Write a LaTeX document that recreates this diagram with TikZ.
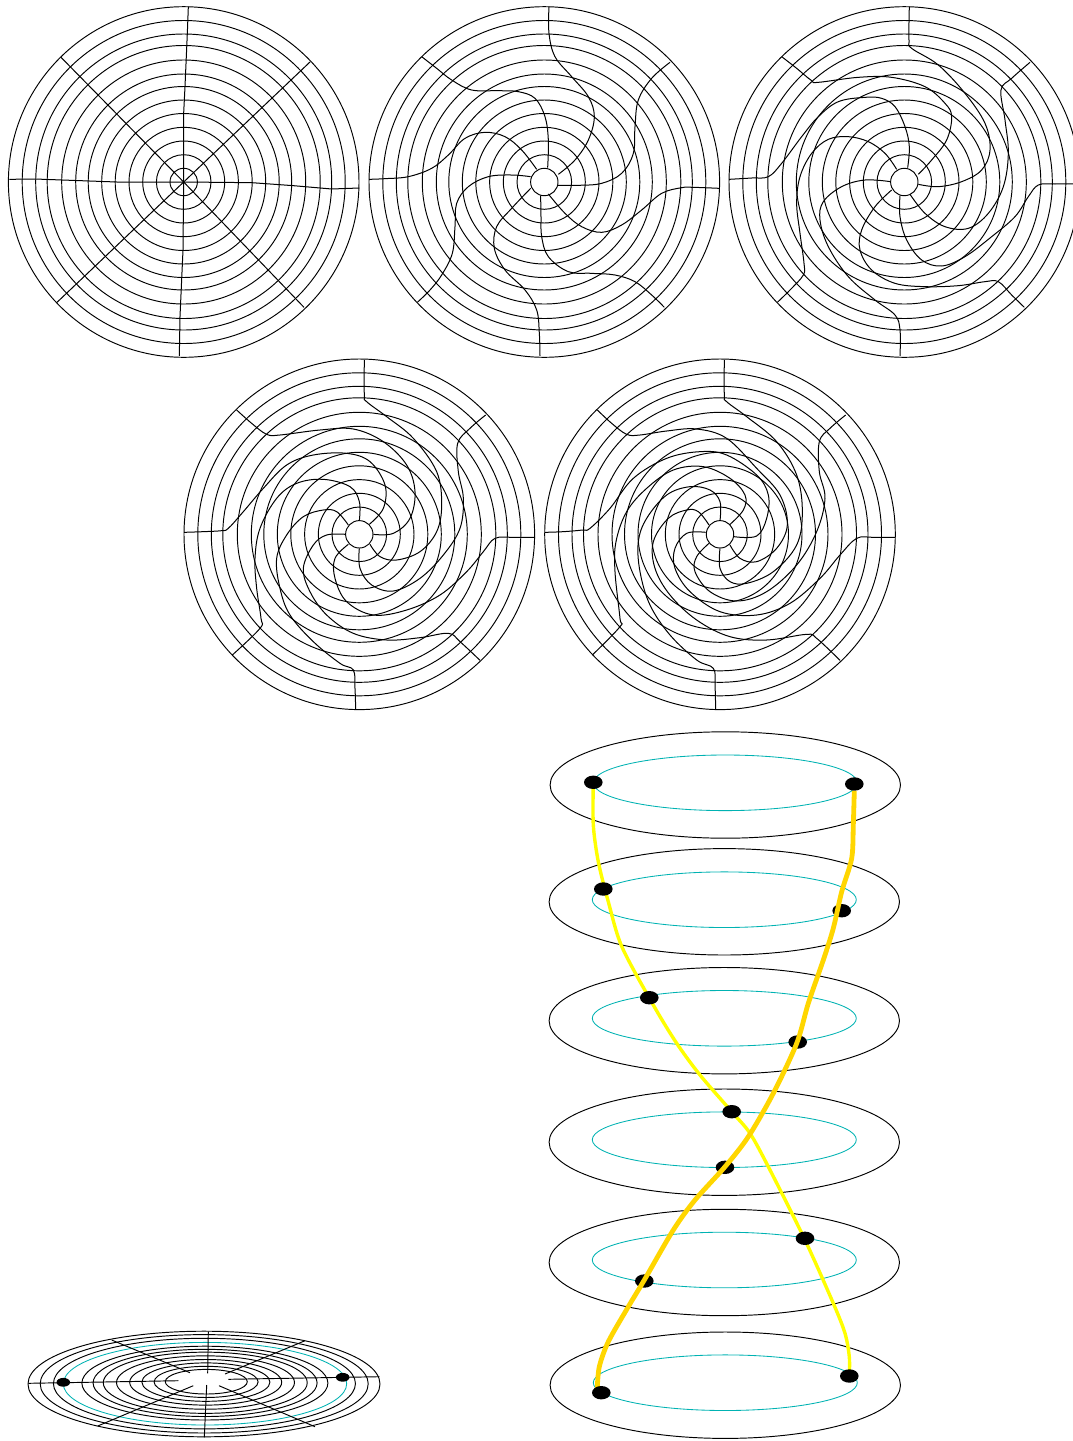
\documentclass[tikz,border=0pt]{standalone}
\usepackage{tikz}
\usetikzlibrary{calc,shapes.geometric}
\definecolor{ciano}{RGB}{0,178,178}
\definecolor{arany}{RGB}{255,214,0}
\definecolor{sarga}{RGB}{255,255,0}
\newcommand{\gyuruk}[2]{%
  \foreach \r in {13.7,27.3,41,54.7,68.5,82,95.5,108,122,136.5,148,161.5,175.3}
    \draw[vek] (#1,#2) circle[radius=\r];}
\newcommand{\lap}[3]{%
  \draw[vek] (#1,#2) ellipse[x radius=175.2,y radius=53.2];
  \draw[gyur] (#1,#3) ellipse[x radius=132,y radius=27.8];}
\tikzset{
  vek/.style={line width=0.95pt},
  gyur/.style={line width=0.85pt,ciano},
  ag/.style={line width=1pt,smooth,tension=0.6},
  pont/.style={ellipse,fill=black,minimum width=18.6pt,minimum height=13.4pt,inner sep=0pt},
  kispont/.style={ellipse,fill=black,minimum width=13.6pt,minimum height=8.8pt,inner sep=0pt},
  sargaszal/.style={line width=3.4pt,sarga},
  aranyszal/.style={line width=4.8pt,arany},
}
\begin{document}
\begin{tikzpicture}[x=1pt,y=-1pt]
  \useasboundingbox (0,0) rectangle (1073,1441);
  % sima korong
  \gyuruk{183.7}{182}
  \begin{scope}[scale=1/3]
    \draw[ag,sharp plot] plot coordinates {(551,546) (551,340) (555,260) (562,100) (565,20)};
    \draw[ag,sharp plot] plot coordinates {(551,546) (931,185)};
    \draw[ag,sharp plot] plot coordinates {(551,546) (755,548) (880,557) (995,567) (1078,564)};
    \draw[ag,sharp plot] plot coordinates {(551,546) (912,922)};
    \draw[ag,sharp plot] plot coordinates {(551,546) (549,750) (540,950) (538,1068)};
    \draw[ag,sharp plot] plot coordinates {(551,546) (171,907)};
    \draw[ag,sharp plot] plot coordinates {(551,546) (350,546) (105,537) (28,538)};
    \draw[ag,sharp plot] plot coordinates {(551,546) (183,172)};
  \end{scope}
  % 45 fok csavaras
  \gyuruk{544.3}{182}
  \begin{scope}[shift={(365,0)},scale=1/3]
    \draw[ag] plot coordinates {(548,503) (550,420) (540,350) (510,295) (460,275) (400,272) (320,270) (260,240) (215,205) (170,170)};
    \draw[ag] plot coordinates {(515,508) (470,450) (420,410) (360,397) (300,415) (250,465) (200,505) (130,530) (60,536) (12,538)};
    \draw[ag] plot coordinates {(497,530) (440,525) (370,530) (310,560) (275,610) (270,680) (262,760) (230,825) (195,870) (157,907)};
    \draw[ag] plot coordinates {(497,565) (440,625) (395,680) (388,745) (420,810) (480,870) (515,930) (523,1000) (525,1068)};
    \draw[ag] plot coordinates {(527,587) (528,650) (530,710) (550,770) (610,815) (680,820) (750,825) (810,845) (860,885) (898,922)};
    \draw[ag] plot coordinates {(550,582) (600,640) (650,680) (710,697) (770,675) (830,630) (890,580) (950,563) (985,562) (1063,565)};
    \draw[ag] plot coordinates {(578,556) (640,556) (710,550) (770,520) (805,460) (810,380) (820,300) (860,235) (915,187)};
    \draw[ag] plot coordinates {(580,523) (630,480) (670,420) (688,350) (670,290) (620,230) (570,170) (552,100) (552,20)};
  \end{scope}
  % 90 fok
  \gyuruk{904.3}{182}
  \begin{scope}[shift={(725,0)},scale=1/3]
    \draw[ag] plot coordinates {(548,503) (553,440) (540,380) (510,320) (470,295) (420,292) (340,305) (280,350) (230,410) (170,490) (130,530) (80,534) (12,538)};
    \draw[ag] plot coordinates {(515,508) (480,460) (430,425) (370,410) (310,418) (260,460) (225,530) (215,610) (225,700) (237,790) (235,825) (195,870) (157,907)};
    \draw[ag] plot coordinates {(497,545) (420,540) (350,560) (295,605) (285,660) (310,740) (370,830) (450,900) (510,945) (525,990) (525,1068)};
    \draw[ag] plot coordinates {(500,570) (450,620) (410,690) (405,750) (440,810) (510,850) (600,860) (700,857) (780,845) (820,845) (860,885) (898,922)};
    \draw[ag] plot coordinates {(525,587) (525,650) (545,720) (590,780) (650,798) (720,770) (800,710) (870,650) (910,590) (940,555) (990,552) (1073,552)};
    \draw[ag] plot coordinates {(555,583) (600,640) (660,680) (730,685) (790,640) (835,560) (850,460) (840,360) (828,270) (860,235) (915,187)};
    \draw[ag] plot coordinates {(580,553) (640,560) (710,545) (770,510) (795,450) (780,370) (720,280) (640,195) (560,145) (552,120) (553,20)};
    \draw[ag] plot coordinates {(580,523) (620,480) (665,420) (680,350) (660,310) (600,260) (500,232) (400,232) (280,247) (260,242) (215,205) (170,170)};
  \end{scope}
  % 135 fok
  \gyuruk{359.3}{534.3}
  \begin{scope}[shift={(180,355)},scale=1/3]
    \draw[ag] plot coordinates {(538,497) (538,440) (510,395) (430,373) (350,385) (290,430) (240,520) (225,610) (230,700) (243,790) (240,820) (157,900)};
    \draw[ag] plot coordinates {(505,510) (470,470) (430,465) (370,485) (320,540) (290,610) (300,700) (330,780) (400,860) (480,925) (520,945) (525,1000) (527,1062)};
    \draw[ag] plot coordinates {(497,538) (440,540) (400,570) (370,640) (390,710) (440,780) (520,835) (620,855) (720,848) (805,835) (840,860) (900,916)};
    \draw[ag] plot coordinates {(505,568) (465,610) (465,670) (500,740) (580,780) (680,765) (780,720) (860,650) (910,590) (945,550) (1000,547) (1065,547)};
    \draw[ag] plot coordinates {(538,580) (540,640) (575,690) (640,708) (720,670) (790,600) (840,520) (850,430) (835,350) (833,265) (870,220) (917,180)};
    \draw[ag] plot coordinates {(570,568) (600,605) (650,615) (720,590) (770,530) (785,450) (770,350) (700,250) (620,185) (560,140) (553,120) (553,15)};
    \draw[ag] plot coordinates {(580,538) (640,535) (690,490) (705,410) (680,330) (610,260) (520,222) (420,225) (300,240) (260,238) (215,205) (170,165)};
    \draw[ag] plot coordinates {(568,508) (610,460) (615,390) (570,320) (500,295) (400,300) (320,330) (250,400) (190,470) (145,520) (125,527) (70,530) (12,532)};
  \end{scope}
  % 180 fok
  \gyuruk{720}{534.3}
  \begin{scope}[shift={(540,355)},scale=1/3]
    \draw[ag] plot coordinates {(540,497) (540,440) (510,405) (450,395) (380,420) (320,490) (295,560) (300,650) (330,750) (390,840) (470,915) (520,940) (525,990) (527,1062)};
    \draw[ag] plot coordinates {(507,510) (475,470) (440,465) (385,490) (340,560) (345,640) (390,720) (470,795) (570,845) (680,855) (800,838) (830,850) (900,916)};
    \draw[ag] plot coordinates {(497,532) (440,535) (405,580) (405,640) (450,710) (540,770) (650,780) (750,745) (840,670) (900,600) (950,550) (1000,547) (1065,547)};
    \draw[ag] plot coordinates {(507,565) (470,605) (465,650) (510,710) (590,738) (680,710) (770,630) (830,530) (855,430) (838,350) (838,260) (870,220) (917,180)};
    \draw[ag] plot coordinates {(540,580) (540,640) (570,680) (620,685) (700,650) (770,570) (787,470) (770,360) (710,260) (620,185) (560,140) (553,120) (553,15)};
    \draw[ag] plot coordinates {(570,570) (600,610) (650,620) (710,580) (742,510) (720,420) (650,340) (560,250) (470,222) (380,228) (300,240) (260,238) (215,205) (172,165)};
    \draw[ag] plot coordinates {(582,545) (650,543) (680,490) (685,420) (650,360) (560,300) (480,290) (380,310) (280,370) (210,460) (150,520) (128,525) (70,530) (15,532)};
    \draw[ag] plot coordinates {(568,510) (610,465) (615,420) (570,370) (490,335) (400,345) (320,400) (260,470) (228,560) (225,650) (240,790) (240,815) (157,900)};
  \end{scope}
  % lapitott korong
  \foreach \r in {41,52,64,76,89,102,112,123,151,164,176}
    \draw[vek] ({204+(1-\r/176)*3},{1384-(1-\r/176)*3}) ellipse[x radius=\r,y radius=0.3*\r];
  \draw[gyur] (205,1383.7) ellipse[x radius=141.7,y radius=41.3];
  \draw[vek] (208.3,1331.7) -- (207.7,1373.3);
  \draw[vek] (305,1340.7) -- (225,1374);
  \draw[vek] (379.3,1376.7) -- (228.3,1379.3);
  \draw[vek] (315,1426.7) -- (219,1385.7);
  \draw[vek] (204.3,1437.3) -- (206.7,1385);
  \draw[vek] (97.7,1426) -- (193.3,1385.7);
  \draw[vek] (28.3,1383.3) -- (178.3,1380.7);
  \draw[vek] (111.7,1340) -- (190,1372.7);
  \node[kispont] (kbal) at (63.3,1382.3) {};
  \node[kispont] (kjobb) at (342.7,1377.3) {};
  % lapok egymas alatt
  \lap{725.3}{785}{782.8}
  \lap{724.3}{901.8}{899.7}
  \lap{724.3}{1020.7}{1018.3}
  \lap{724.3}{1142.2}{1139.7}
  \lap{724.3}{1262.5}{1260}
  \lap{725.3}{1385.2}{1382.7}
  \coordinate (aranyveg) at (597.3,1388.3);
  \draw[sargaszal] plot[smooth] coordinates {(593.3,782.3) (593.3,825) (598.3,861.7) (608.3,901.7) (622,947) (653.3,1005) (676.7,1043.3) (700,1075) (731.7,1111.7) (750,1133.3) (770,1170) (805,1240) (833.3,1303.3) (845,1333.3) (849.3,1356.7) (849.3,1376)};
  \node[pont] (a1) at (593.3,782.3) {};
  \node[pont] (b1) at (854.3,784) {};
  \node[pont] (a2) at (603.3,889) {};
  \node[pont] (b2) at (841.7,910.7) {};
  \node[pont] (a3) at (649.3,997.7) {};
  \node[pont] (b3) at (797.7,1042) {};
  \node[pont] (a4) at (731.7,1111.7) {};
  \node[pont] (b4) at (725,1167.3) {};
  \node[pont] (a5) at (805,1238.3) {};
  \node[pont] (b5) at (644.3,1281) {};
  \node[pont] (a6) at (849.3,1376) {};
  \draw[aranyszal] plot[smooth] coordinates {(b1.south) (853.3,825) (851.7,858.3) (841.7,891.7) (833.3,928.3) (823.3,960) (808.3,1003.3) (796.7,1043.3) (773.3,1093.3) (748.3,1136.7) (725,1166.7) (695,1200) (673.3,1230) (644.3,1280) (628.3,1306.7) (608.3,1341.7) (599.3,1366.7) (aranyveg)};
  \node[pont] (b6) at (601.3,1392.7) {};
\end{tikzpicture}
\end{document}
